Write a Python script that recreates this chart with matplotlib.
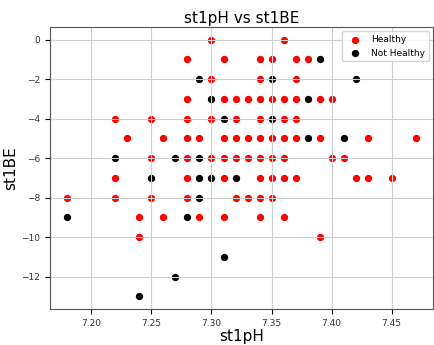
import matplotlib.pyplot as plt

# Healthy (red) points
healthy_ph = [7.30, 7.36,
              7.28, 7.31, 7.34, 7.35, 7.37, 7.38,
              7.30, 7.34, 7.37,
              7.28, 7.31, 7.32, 7.33, 7.34, 7.35, 7.36, 7.37, 7.39, 7.40,
              7.22, 7.25, 7.28, 7.30, 7.32, 7.34, 7.36, 7.37,
              7.23, 7.26, 7.28, 7.29, 7.31, 7.32, 7.33, 7.34, 7.35, 7.36, 7.37, 7.39, 7.43, 7.47,
              7.25, 7.28, 7.30, 7.31, 7.32, 7.33, 7.34, 7.35, 7.36, 7.40, 7.41,
              7.22, 7.28, 7.31, 7.34, 7.35, 7.36, 7.37, 7.42, 7.43, 7.45,
              7.18, 7.22, 7.25, 7.28, 7.32, 7.33, 7.34, 7.35,
              7.24, 7.26, 7.29, 7.31, 7.34, 7.36,
              7.24, 7.39]
healthy_be = [0, 0,
              -1, -1, -1, -1, -1, -1,
              -2, -2, -2,
              -3, -3, -3, -3, -3, -3, -3, -3, -3, -3,
              -4, -4, -4, -4, -4, -4, -4, -4,
              -5, -5, -5, -5, -5, -5, -5, -5, -5, -5, -5, -5, -5, -5,
              -6, -6, -6, -6, -6, -6, -6, -6, -6, -6, -6,
              -7, -7, -7, -7, -7, -7, -7, -7, -7, -7,
              -8, -8, -8, -8, -8, -8, -8, -8,
              -9, -9, -9, -9, -9, -9,
              -10, -10]

# Not healthy (black) points
sick_ph = [7.39, 7.29, 7.35, 7.42, 7.30, 7.38, 7.31, 7.35, 7.38, 7.41,
           7.22, 7.27, 7.29, 7.25, 7.29, 7.30, 7.32, 7.29, 7.18, 7.28,
           7.31, 7.27, 7.24]
sick_be = [-1, -2, -2, -2, -3, -3, -4, -4, -5, -5,
           -6, -6, -6, -7, -7, -7, -7, -8, -9, -9,
           -11, -12, -13]

fig, ax = plt.subplots(figsize=(4.34, 3.45), dpi=100)
fig.subplots_adjust(left=0.115, right=0.998, top=0.922, bottom=0.104)

ax.scatter(healthy_ph, healthy_be, c='red', s=18, label='Healthy')
ax.scatter(sick_ph, sick_be, c='black', s=18, label='Not Healthy')

ax.set_title('st1pH vs st1BE', fontsize=11, pad=3)
ax.set_xlabel('st1pH', fontsize=11, labelpad=1)
ax.set_ylabel('st1BE', fontsize=11, labelpad=2)
ax.tick_params(labelsize=6.5, labelcolor='#333333')
for sp in ax.spines.values():
    sp.set_color('#555555')
ax.grid(True, color='#cfcfcf')
ax.legend(loc='upper right', fontsize=6.5)

fig.savefig('out.png', dpi=100)
